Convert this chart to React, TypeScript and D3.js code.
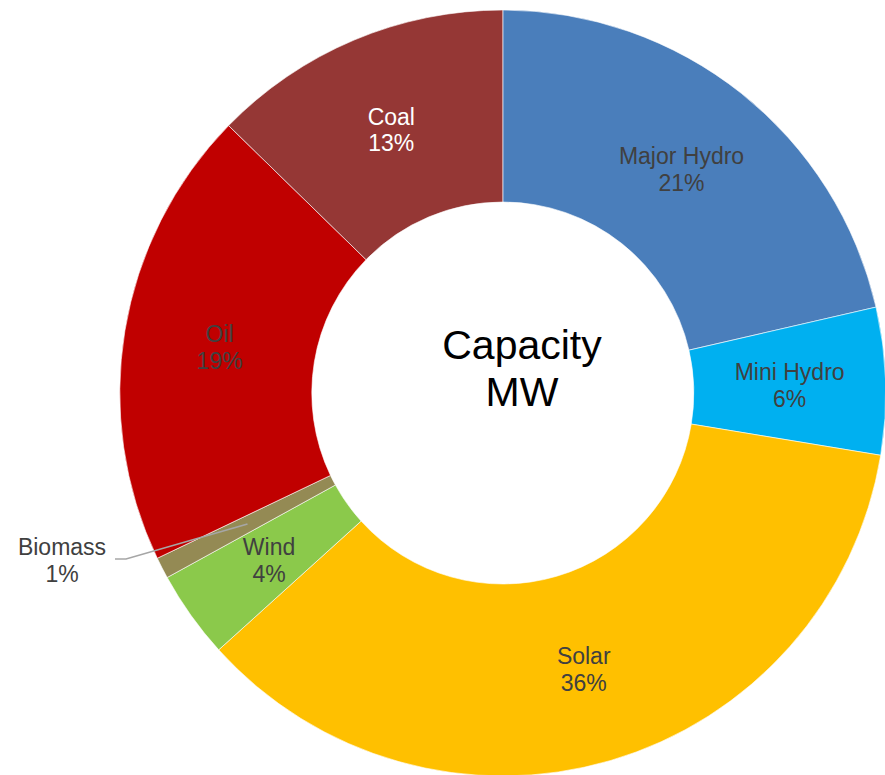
import React from "react";
import * as d3 from "d3";

// capacity share per source, percent (clockwise from 12 o'clock)
const sources = ["Major Hydro", "Mini Hydro", "Solar", "Wind", "Biomass", "Oil", "Coal"];
const shares = [21.4, 6.2, 35.7, 3.7, 0.9, 19.4, 12.7];
const colors = ["#4A7EBB", "#00B0F0", "#FFC000", "#8BC94B", "#948A54", "#C00000", "#953735"];
const labelColors = ["#404040", "#404040", "#404040", "#404040", "#404040", "#404040", "#FFFFFF"];
const centerTitle = ["Capacity", "MW"];

export default function App() {
    const width = 885;
    const height = 775;
    const cx = 502.8;
    const cy = 393;
    const outer = 383;
    const inner = 191;

    const pie = d3.pie<number>().sort(null).value((d) => d);
    const slices = pie(shares);

    const arc = d3.arc<d3.PieArcDatum<number>>().innerRadius(inner).outerRadius(outer);
    const labelArc = d3.arc<d3.PieArcDatum<number>>()
        .innerRadius((inner + outer) / 2)
        .outerRadius((inner + outer) / 2);

    const total = d3.sum(shares);
    const pct = (v: number) => `${Math.round((v / total) * 100)}%`;

    const font = "'Liberation Sans', Arial, sans-serif";
    const fs = 23;

    return (
        <div style={{ position: "absolute", left: 0, top: 0 }}>
            <svg width={width} height={height} style={{ display: "block", background: "#fff" }}>
                <g transform={`translate(${cx},${cy})`}>
                    {slices.map((s, i) => (
                        <path key={sources[i]} d={arc(s) || ""} fill={colors[i]} stroke="#fff" strokeWidth={0.6} />
                    ))}
                    {slices.map((s, i) => {
                        if (sources[i] === "Biomass") return null;
                        const [x, y] = labelArc.centroid(s);
                        return (
                            <text key={"l" + i} x={x} y={y} textAnchor="middle" fontFamily={font}
                                fontSize={fs} fill={labelColors[i]}>
                                <tspan x={x} dy={-4}>{sources[i]}</tspan>
                                <tspan x={x} dy={26.7}>{pct(s.value)}</tspan>
                            </text>
                        );
                    })}
                    {/* biomass slice is too thin, label sits outside with a leader line */}
                    {slices.filter((_, i) => sources[i] === "Biomass").map((s) => {
                        const [x0, y0] = labelArc.centroid(s);
                        const elbowX = 126 - cx;
                        const elbowY = 559 - cy;
                        return (
                            <g key="biomass">
                                <polyline points={`${x0},${y0} ${elbowX},${elbowY} ${elbowX - 11},${elbowY}`}
                                    fill="none" stroke="#A6A6A6" strokeWidth={1.6} />
                                <text textAnchor="middle" fontFamily={font} fontSize={fs} fill="#404040">
                                    <tspan x={62 - cx} y={555.3 - cy}>Biomass</tspan>
                                    <tspan x={62 - cx} y={582 - cy}>{pct(s.value)}</tspan>
                                </text>
                            </g>
                        );
                    })}
                </g>
                <text textAnchor="middle" fontFamily={font} fontSize={41} fill="#000">
                    <tspan x={522} y={359}>{centerTitle[0]}</tspan>
                    <tspan x={522} y={406}>{centerTitle[1]}</tspan>
                </text>
            </svg>
        </div>
    );
}
